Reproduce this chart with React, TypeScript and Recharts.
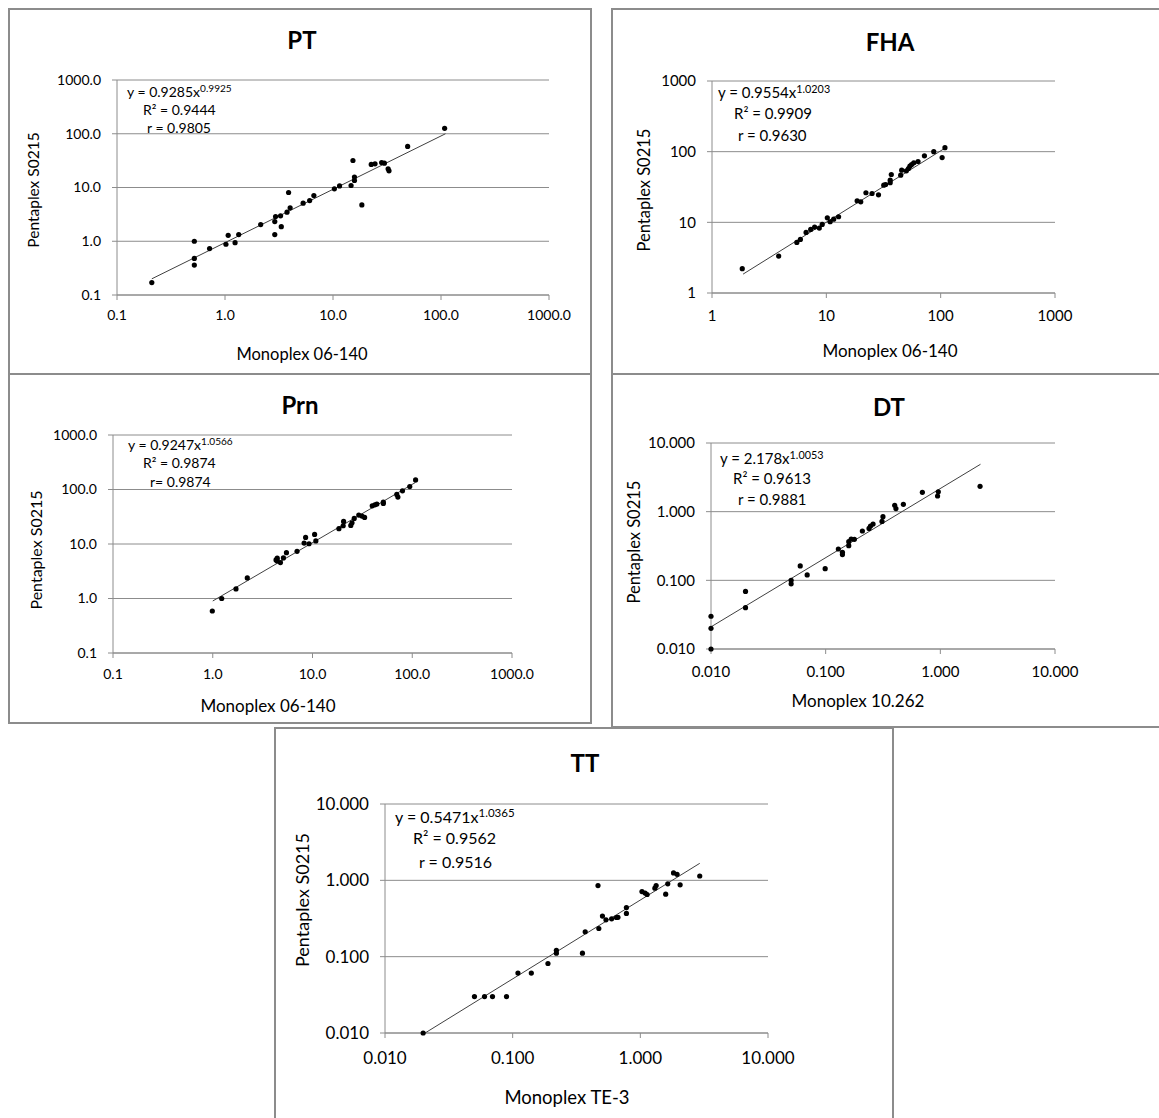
import React from 'react'
import { ScatterChart, Scatter, XAxis, YAxis, CartesianGrid } from 'recharts'

// PT: Monoplex 06-140 vs Pentaplex S0215
const ptX = [0.21, 0.52, 0.52, 0.52, 0.72, 1.02, 1.07, 1.24, 1.34, 2.14, 2.89, 2.94, 2.89, 3.27, 3.32, 3.75, 3.88, 4.01, 5.29, 6.08, 6.65, 10.3, 11.5, 14.7, 15.3, 15.8, 15.8, 18.5, 22.6, 24.5, 28.2, 29.9, 32.4, 33.0, 49.1, 108]
const ptY = [0.17, 1.0, 0.48, 0.36, 0.73, 0.88, 1.29, 0.94, 1.33, 2.04, 2.32, 2.88, 1.33, 2.97, 1.87, 3.47, 8.07, 4.18, 5.1, 5.72, 7.1, 9.45, 10.7, 10.9, 31.8, 15.6, 13.5, 4.75, 26.9, 27.6, 29.2, 28.4, 22.3, 20.4, 58.1, 126]
const ptTrendX = [0.21, 110]
const ptTrendY = [0.2, 100]

// FHA
const fhaX = [1.84, 3.83, 5.52, 5.93, 6.65, 7.3, 7.9, 8.68, 9.2, 10.2, 10.8, 11.6, 12.8, 18.6, 20.0, 22.2, 25.1, 28.6, 31.8, 33.0, 36.2, 36.2, 37.0, 44.7, 45.6, 50.1, 52.3, 53.8, 55.7, 58.2, 63.4, 72.1, 87.0, 103, 109]
const fhaY = [2.21, 3.33, 5.2, 5.73, 7.2, 7.94, 8.57, 8.3, 9.34, 11.6, 10.2, 11.1, 12.0, 20.2, 19.5, 26.2, 25.6, 24.5, 33.6, 34.3, 36.3, 39.5, 47.5, 46.5, 54.7, 53.6, 57.8, 62.4, 65.8, 69.5, 72.6, 87.3, 100, 82.6, 114]
const fhaTrendX = [1.87, 108]
const fhaTrendY = [1.85, 111]

// Prn
const prnX = [0.99, 1.23, 1.71, 2.22, 4.31, 4.43, 4.43, 4.77, 5.11, 5.48, 7.0, 8.24, 8.53, 9.23, 10.5, 10.8, 18.4, 20.3, 20.5, 24.2, 24.9, 26.2, 29.1, 31.3, 33.3, 39.7, 42.2, 44.2, 51.3, 51.3, 70.0, 71.8, 79.8, 94.4, 108]
const prnY = [0.59, 1.0, 1.5, 2.39, 5.1, 5.5, 4.9, 4.56, 5.55, 6.94, 7.34, 10.4, 13.2, 10.1, 15.0, 11.4, 19.1, 21.6, 26.0, 21.9, 24.5, 29.5, 33.9, 32.5, 30.7, 50.2, 52.4, 54.0, 58.7, 55.4, 81.1, 72.5, 94.6, 113, 150]
const prnTrendX = [1.0, 108]
const prnTrendY = [0.9, 135]

// DT: Monoplex 10.262
const dtX = [0.01, 0.01, 0.01, 0.02, 0.02, 0.05, 0.05, 0.06, 0.069, 0.099, 0.129, 0.14, 0.14, 0.159, 0.159, 0.167, 0.178, 0.209, 0.239, 0.246, 0.259, 0.31, 0.316, 0.40, 0.41, 0.476, 0.697, 0.946, 0.96, 2.22]
const dtY = [0.01, 0.02, 0.03, 0.04, 0.069, 0.089, 0.1, 0.162, 0.12, 0.148, 0.286, 0.256, 0.237, 0.32, 0.366, 0.40, 0.395, 0.523, 0.571, 0.618, 0.66, 0.722, 0.845, 1.24, 1.11, 1.28, 1.91, 1.69, 1.95, 2.34]
const dtTrendX = [0.01, 2.24]
const dtTrendY = [0.021, 4.9]

// TT: Monoplex TE-3
const ttX = [0.0199, 0.0502, 0.0602, 0.0695, 0.0895, 0.110, 0.14, 0.189, 0.22, 0.22, 0.352, 0.37, 0.466, 0.473, 0.505, 0.538, 0.596, 0.65, 0.668, 0.778, 0.778, 1.03, 1.09, 1.13, 1.30, 1.33, 1.58, 1.64, 1.82, 1.94, 2.05, 2.92]
const ttY = [0.01, 0.03, 0.03, 0.03, 0.03, 0.061, 0.061, 0.0814, 0.121, 0.111, 0.111, 0.212, 0.855, 0.234, 0.34, 0.304, 0.313, 0.326, 0.328, 0.44, 0.368, 0.713, 0.68, 0.652, 0.789, 0.855, 0.659, 0.9, 1.25, 1.20, 0.873, 1.14]
const ttTrendX = [0.0206, 2.92]
const ttTrendY = [0.01, 1.67]

const ticks1 = [0.1, 1, 10, 100, 1000]
const ticks3 = [0.01, 0.1, 1, 10]

const GRAY = '#8c8c8c'
const FONT = 'Lato, "Open Sans", sans-serif'

type PanelProps = {
  title: string
  box: number[] // left, top, width, height
  plot: number[] // x0, y0, x1, y1 (page px)
  xs: number[]
  ys: number[]
  trendX: number[]
  trendY: number[]
  ticks: number[]
  digits: number
  xLabel: string
  coef: string
  power: string
  r2: string
  r: string
  titlePos: number[]
  xLabelPos: number[]
  yLabelPos: number[]
  eqPos: number[][]
  tickFont: number
  labelFont: number
  yLabelFont: number
  eqFont: number
  xTickGap: number
}

const Dot = (props: any) => <circle cx={props.cx} cy={props.cy} r={2.6} fill="#000" />
const NoDot = () => <g />

function Panel(p: PanelProps) {
  const [bl, bt, bw, bh] = p.box
  const [x0, y0, x1, y1] = p.plot
  const pts = p.xs.map((x, i) => ({ x, y: p.ys[i] }))
  const trend = p.trendX.map((x, i) => ({ x, y: p.trendY[i] }))
  const dom = [p.ticks[0], p.ticks[p.ticks.length - 1]]
  const fmt = (v: number) => v.toFixed(p.digits)
  const tick = { fill: '#000', fontSize: p.tickFont, fontFamily: FONT }
  const abs = (x: number, y: number): React.CSSProperties => ({
    position: 'absolute', left: x, top: y, whiteSpace: 'nowrap', lineHeight: 1, color: '#000',
  })

  return (
    <>
      <div style={{ position: 'absolute', left: bl, top: bt, width: bw, height: bh, border: `2px solid ${GRAY}`, boxSizing: 'border-box' }} />
      <div style={{ position: 'absolute', left: bl, top: bt }}>
        <ScatterChart width={bw} height={bh} margin={{ top: y0 - bt, right: bl + bw - x1, bottom: 0, left: 0 }}>
          <CartesianGrid vertical={false} stroke={GRAY} />
          <XAxis
            type="number" dataKey="x" scale="log" domain={dom} ticks={p.ticks} tickFormatter={fmt}
            height={bt + bh - y1} tick={tick} tickSize={5} tickMargin={p.xTickGap}
            axisLine={{ stroke: GRAY }} tickLine={{ stroke: GRAY }} interval={0}
          />
          <YAxis
            type="number" dataKey="y" scale="log" domain={dom} ticks={p.ticks} tickFormatter={fmt}
            width={x0 - bl} tick={tick} tickSize={5} tickMargin={11}
            axisLine={{ stroke: GRAY }} tickLine={{ stroke: GRAY }} interval={0}
          />
          <Scatter data={trend} line={{ stroke: '#404040', strokeWidth: 1 }} shape={NoDot} isAnimationActive={false} />
          <Scatter data={pts} shape={Dot} isAnimationActive={false} />
        </ScatterChart>
      </div>

      {/* titles and equation text */}
      <div style={{ ...abs(p.titlePos[0], p.titlePos[1]), transform: 'translate(-50%,-50%)', fontSize: 24, fontWeight: 700 }}>{p.title}</div>
      <div style={{ ...abs(p.xLabelPos[0], p.xLabelPos[1]), transform: 'translate(-50%,-50%)', fontSize: p.labelFont }}>{p.xLabel}</div>
      <div style={{ ...abs(p.yLabelPos[0], p.yLabelPos[1]), transform: 'translate(-50%,-50%) rotate(-90deg)', fontSize: p.yLabelFont }}>Pentaplex S0215</div>
      <div style={{ ...abs(p.eqPos[0][0], p.eqPos[0][1]), transform: 'translateY(-50%)', fontSize: p.eqFont }}>
        y = {p.coef}x<span style={{ fontSize: '0.72em', position: 'relative', top: '-0.5em' }}>{p.power}</span>
      </div>
      <div style={{ ...abs(p.eqPos[1][0], p.eqPos[1][1]), transform: 'translateY(-50%)', fontSize: p.eqFont }}>{p.r2}</div>
      <div style={{ ...abs(p.eqPos[2][0], p.eqPos[2][1]), transform: 'translateY(-50%)', fontSize: p.eqFont }}>{p.r}</div>
    </>
  )
}

export default function App() {
  return (
    <div style={{ position: 'absolute', left: 0, top: 0, width: 1159, height: 1118, overflow: 'hidden', background: '#fff', fontFamily: FONT }}>
      <Panel
        title="PT" box={[8, 8, 584, 367]} plot={[117, 80, 549, 295]}
        xs={ptX} ys={ptY} trendX={ptTrendX} trendY={ptTrendY} ticks={ticks1} digits={1}
        xLabel="Monoplex 06-140" coef="0.9285" power="0.9925" r2="R² = 0.9444" r="r = 0.9805"
        titlePos={[302, 40]} xLabelPos={[302, 354]} yLabelPos={[34, 190]}
        eqPos={[[127, 92], [143, 110], [147, 128]]}
        tickFont={14} labelFont={16.5} yLabelFont={15.5} eqFont={14} xTickGap={10}
      />
      <Panel
        title="FHA" box={[611, 8, 560, 367]} plot={[712, 81, 1055, 293]}
        xs={fhaX} ys={fhaY} trendX={fhaTrendX} trendY={fhaTrendY} ticks={[1, 10, 100, 1000]} digits={0}
        xLabel="Monoplex 06-140" coef="0.9554" power="1.0203" r2="R² = 0.9909" r="r = 0.9630"
        titlePos={[890, 42]} xLabelPos={[890, 350]} yLabelPos={[644, 190]}
        eqPos={[[718, 92], [734, 113], [738, 135]]}
        tickFont={15} labelFont={17} yLabelFont={16.5} eqFont={15} xTickGap={12}
      />
      <Panel
        title="Prn" box={[8, 373, 584, 351]} plot={[113, 435, 512, 653]}
        xs={prnX} ys={prnY} trendX={prnTrendX} trendY={prnTrendY} ticks={ticks1} digits={1}
        xLabel="Monoplex 06-140" coef="0.9247" power="1.0566" r2="R² = 0.9874" r="r= 0.9874"
        titlePos={[300, 405]} xLabelPos={[268, 705]} yLabelPos={[36, 550]}
        eqPos={[[128, 445], [143, 463], [150, 482]]}
        tickFont={14} labelFont={17} yLabelFont={16} eqFont={14} xTickGap={11}
      />
      <Panel
        title="DT" box={[611, 373, 560, 355]} plot={[711, 443, 1055, 649]}
        xs={dtX} ys={dtY} trendX={dtTrendX} trendY={dtTrendY} ticks={ticks3} digits={3}
        xLabel="Monoplex 10.262" coef="2.178" power="1.0053" r2="R² = 0.9613" r="r = 0.9881"
        titlePos={[889, 407]} xLabelPos={[858, 700]} yLabelPos={[634, 542]}
        eqPos={[[720, 458], [733, 478], [738, 499]]}
        tickFont={15} labelFont={17} yLabelFont={16.5} eqFont={15} xTickGap={12}
      />
      <Panel
        title="TT" box={[274, 727, 620, 400]} plot={[385, 804, 768, 1033]}
        xs={ttX} ys={ttY} trendX={ttTrendX} trendY={ttTrendY} ticks={ticks3} digits={3}
        xLabel="Monoplex TE-3" coef="0.5471" power="1.0365" r2="R² = 0.9562" r="r = 0.9516"
        titlePos={[585, 763]} xLabelPos={[567, 1097]} yLabelPos={[302, 900]}
        eqPos={[[395, 817], [413, 838], [419, 862]]}
        tickFont={17} labelFont={18.5} yLabelFont={18} eqFont={16} xTickGap={14}
      />
    </div>
  )
}
